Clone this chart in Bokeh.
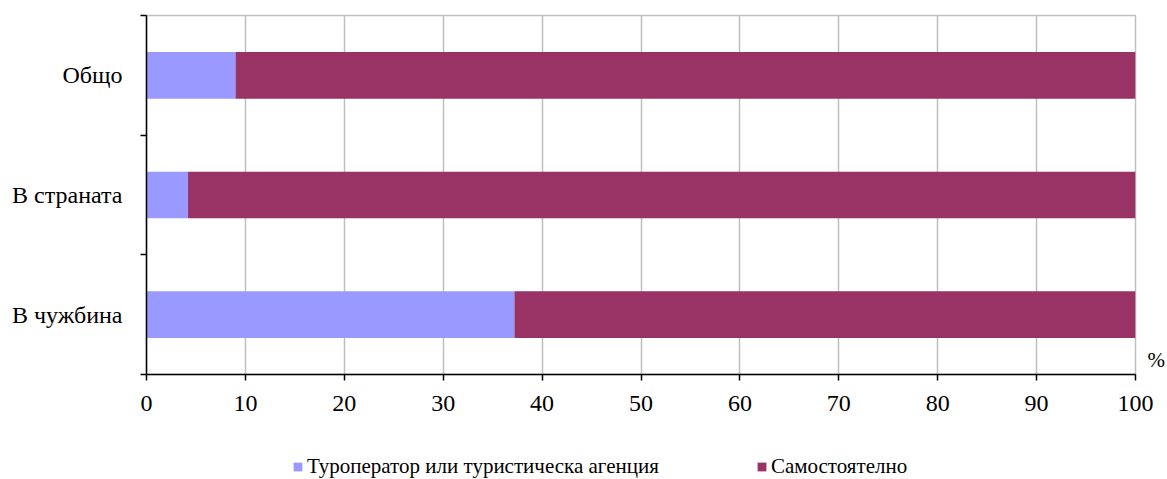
from bokeh.plotting import figure
from bokeh.layouts import column
from bokeh.models import (ColumnDataSource, FixedTicker, Legend, LegendItem, LinearAxis, Range1d)
from bokeh.embed import file_html
from bokeh.resources import INLINE

# Data
categories = ["В чужбина", "В страната", "Общо"]          # bottom to top
agency = [37.2, 4.2, 9.0]
independent = [62.8, 95.8, 91.0]
series_names = ["Туроператор или туристическа агенция", "Самостоятелно"]
colors = ["#9999FF", "#993366"]
x_ticks = [0, 10, 20, 30, 40, 50, 60, 70, 80, 90, 100]
unit_label = "%"

y_pos = [i + 0.5 for i in range(len(categories))]
bounds = [float(i) for i in range(len(categories) + 1)]

src = ColumnDataSource(dict(y=y_pos, agency=agency, independent=independent))

FONT = "Liberation Serif"

p = figure(width=1167, height=445, output_backend="svg", toolbar_location=None,
           x_range=Range1d(0, 100), y_range=Range1d(0, len(categories)),
           min_border_left=146, min_border_right=31, min_border_top=15, min_border_bottom=71)

r = p.hbar_stack(["agency", "independent"], y="y", height=0.39, color=colors,
                 line_color=None, source=src)

# outline / grid
p.outline_line_color = "#BFBFBF"
p.outline_line_width = 1.5
p.ygrid.visible = False
p.xgrid.ticker = FixedTicker(ticks=x_ticks)
p.xgrid.grid_line_color = "#BFBFBF"
p.xgrid.grid_line_width = 1.5
p.background_fill_color = "white"
p.border_fill_color = "white"

# x axis
xa = p.xaxis[0]
xa.ticker = FixedTicker(ticks=x_ticks)
xa.axis_line_color = "black"
xa.axis_line_width = 1.5
xa.major_tick_line_color = "black"
xa.major_tick_line_width = 1.5
xa.major_tick_in = 0
xa.major_tick_out = 6
xa.minor_tick_line_color = None
xa.major_label_text_font = FONT
xa.major_label_text_font_size = "24px"
xa.major_label_text_color = "black"
xa.major_label_standoff = 15

# y axis: labels at band centers, tick marks at band boundaries
ya = p.yaxis[0]
ya.ticker = FixedTicker(ticks=y_pos, minor_ticks=bounds)
ya.major_label_overrides = {y: c for y, c in zip(y_pos, categories)}
ya.axis_line_color = "black"
ya.axis_line_width = 1.5
ya.major_tick_line_color = None
ya.major_tick_in = 0
ya.major_tick_out = 0
ya.minor_tick_line_color = "black"
ya.minor_tick_line_width = 1.5
ya.minor_tick_in = 0
ya.minor_tick_out = 6
ya.major_label_text_font = FONT
ya.major_label_text_font_size = "24px"
ya.major_label_text_color = "black"
ya.major_label_standoff = 18

# unit label "%" at the right end of the x axis (right-side axis with one label)
PCT_Y = 0.12
ra = LinearAxis(ticker=FixedTicker(ticks=[PCT_Y]), major_label_overrides={PCT_Y: unit_label},
                axis_line_color=None, major_tick_line_color=None, minor_tick_line_color=None,
                major_tick_in=0, major_tick_out=0, minor_tick_out=0,
                major_label_text_font=FONT, major_label_text_font_size="21px",
                major_label_text_color="black", major_label_standoff=12)
p.add_layout(ra, "right")

# legend strip below the chart (same bars, kept outside its visible range; only the key shows)
lg = figure(width=1167, height=34, output_backend="svg", toolbar_location=None,
            x_range=Range1d(0, 100), y_range=Range1d(10, 11),
            x_axis_type=None, y_axis_type=None, min_border=0)
lg.outline_line_color = None
lg.background_fill_color = "white"
lg.border_fill_color = "white"
key_renderers = lg.hbar_stack(["agency", "independent"], y="y", height=0.39, color=colors,
                              line_color=None, source=src)
legend = Legend(items=[LegendItem(label=n, renderers=[rr]) for n, rr in zip(series_names, key_renderers)],
                location=(146, 0), orientation="horizontal",
                label_text_font=FONT, label_text_font_size="21px",
                label_text_color="black", glyph_width=11, glyph_height=11,
                label_standoff=4, spacing=97, padding=0, margin=0, border_line_color=None,
                background_fill_alpha=0, label_height=19)
lg.add_layout(legend, "center")

layout = column(p, lg, spacing=0)
open("out.html", "w").write(file_html(layout, INLINE))
